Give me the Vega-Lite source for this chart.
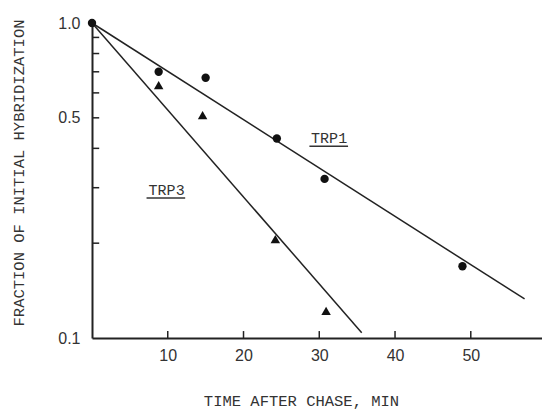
{
  "$schema": "https://vega.github.io/schema/vega-lite/v6.json",
  "width": 450,
  "height": 315,
  "autosize": {"type": "none"},
  "padding": {"left": 92, "top": 23, "right": 0, "bottom": 71},
  "config": {
    "view": {"stroke": null},
    "axis": {
      "grid": false,
      "ticks": false,
      "domainColor": "#222",
      "domainWidth": 2,
      "labelFont": "Liberation Sans",
      "labelFontSize": 16,
      "labelColor": "#333",
      "titleFont": "Liberation Mono",
      "titleFontSize": 15.5,
      "titleFontWeight": "normal",
      "titleColor": "#333"
    }
  },
  "datasets": {
    "points": [
      {"series": "TRP1", "time": 0, "fraction": 1.0},
      {"series": "TRP1", "time": 8.8, "fraction": 0.70},
      {"series": "TRP1", "time": 15.0, "fraction": 0.67},
      {"series": "TRP1", "time": 24.4, "fraction": 0.43},
      {"series": "TRP1", "time": 30.7, "fraction": 0.32},
      {"series": "TRP1", "time": 48.9, "fraction": 0.169},
      {"series": "TRP3", "time": 8.8, "fraction": 0.635},
      {"series": "TRP3", "time": 14.6, "fraction": 0.51},
      {"series": "TRP3", "time": 24.2, "fraction": 0.206},
      {"series": "TRP3", "time": 30.9, "fraction": 0.122}
    ],
    "fits": [
      {"series": "TRP1", "time": 0, "fraction": 1.0},
      {"series": "TRP1", "time": 57.1, "fraction": 0.133},
      {"series": "TRP3", "time": 0, "fraction": 1.0},
      {"series": "TRP3", "time": 35.6, "fraction": 0.104}
    ],
    "labels": [
      {"label": "TRP1", "time": 31.3, "fraction": 0.431, "t0": 28.7, "t1": 33.8},
      {"label": "TRP3", "time": 9.85, "fraction": 0.295, "t0": 7.2, "t1": 12.3}
    ],
    "yticks": [
      {"fraction": 0.2}, {"fraction": 0.3}, {"fraction": 0.4}, {"fraction": 0.5},
      {"fraction": 0.6}, {"fraction": 0.7}, {"fraction": 0.8}, {"fraction": 0.9}
    ],
    "xticks": [
      {"time": 10}, {"time": 20}, {"time": 30}, {"time": 40}, {"time": 50}
    ]
  },
  "layer": [
    {
      "data": {"name": "fits"},
      "mark": {"type": "line", "color": "#222", "strokeWidth": 1.5},
      "encoding": {
        "x": {
          "field": "time",
          "type": "quantitative",
          "scale": {"domain": [0, 59.4], "nice": false, "zero": false},
          "axis": {
            "values": [10, 20, 30, 40, 50],
            "labelPadding": 9,
            "title": "TIME AFTER CHASE, MIN",
            "titleX": 209,
            "titleY": 62,
            "titleBaseline": "middle",
            "titleAlign": "center"
          }
        },
        "y": {
          "field": "fraction",
          "type": "quantitative",
          "scale": {"type": "log", "domain": [0.1, 1.0], "nice": false},
          "axis": {
            "values": [0.1, 0.5, 1.0],
            "labelPadding": 12,
            "labelExpr": "datum.value == 1 ? '1.0' : format(datum.value, '.1f')",
            "title": "FRACTION OF INITIAL HYBRIDIZATION",
            "titleX": -74,
            "titleY": 149.5,
            "titleBaseline": "middle",
            "titleAlign": "center"
          }
        },
        "detail": {"field": "series"}
      }
    },
    {
      "mark": {"type": "rule", "color": "#222", "strokeWidth": 2},
      "encoding": {"y": {"datum": 1}, "x": {"datum": 0}, "x2": {"datum": 59.4}}
    },
    {
      "data": {"name": "yticks"},
      "mark": {"type": "rule", "color": "#222", "strokeWidth": 1.5},
      "encoding": {
        "y": {"field": "fraction", "type": "quantitative"},
        "x": {"datum": 0},
        "x2": {"datum": 0.95}
      }
    },
    {
      "data": {"name": "xticks"},
      "mark": {"type": "rule", "color": "#222", "strokeWidth": 1.5},
      "encoding": {
        "x": {"field": "time", "type": "quantitative"},
        "y": {"datum": 0.1},
        "y2": {"datum": 0.1052}
      }
    },
    {
      "data": {"name": "points"},
      "mark": {"type": "point", "filled": true, "opacity": 1, "color": "#111"},
      "encoding": {
        "x": {"field": "time", "type": "quantitative"},
        "y": {"field": "fraction", "type": "quantitative"},
        "shape": {
          "field": "series",
          "type": "nominal",
          "scale": {"domain": ["TRP1", "TRP3"], "range": ["circle", "triangle-up"]},
          "legend": null
        },
        "size": {
          "field": "series",
          "type": "nominal",
          "scale": {"domain": ["TRP1", "TRP3"], "range": [70, 90]},
          "legend": null
        }
      }
    },
    {
      "data": {"name": "labels"},
      "mark": {"type": "text", "font": "Liberation Mono", "fontSize": 15, "color": "#333", "baseline": "middle", "align": "center"},
      "encoding": {
        "x": {"field": "time", "type": "quantitative"},
        "y": {"field": "fraction", "type": "quantitative"},
        "text": {"field": "label"}
      }
    },
    {
      "data": {"name": "labels"},
      "mark": {"type": "rule", "color": "#333", "strokeWidth": 1.5, "yOffset": 8},
      "encoding": {
        "x": {"field": "t0", "type": "quantitative"},
        "x2": {"field": "t1"},
        "y": {"field": "fraction", "type": "quantitative"}
      }
    }
  ]
}
